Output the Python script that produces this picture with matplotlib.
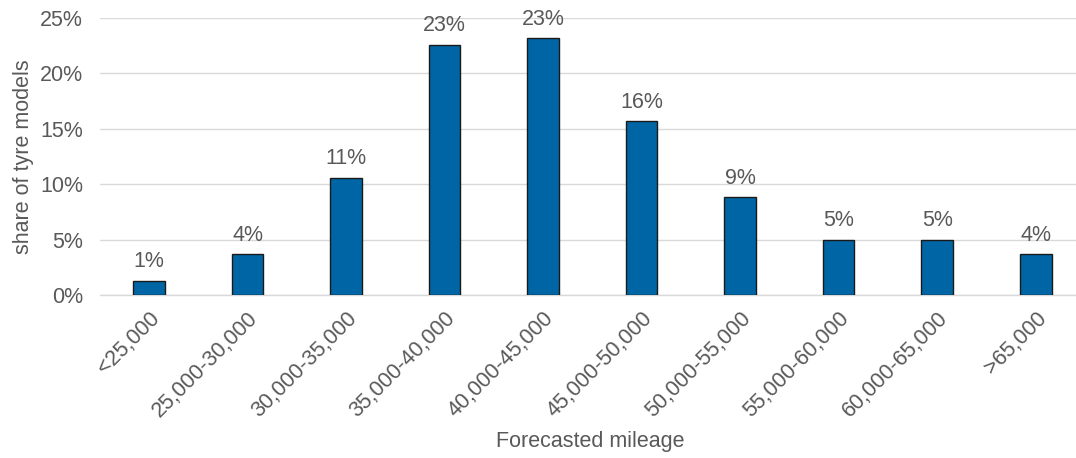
import matplotlib
matplotlib.use("Agg")
import matplotlib.pyplot as plt
from matplotlib.ticker import PercentFormatter

categories = ["<25,000", "25,000-30,000", "30,000-35,000", "35,000-40,000",
              "40,000-45,000", "45,000-50,000", "50,000-55,000", "55,000-60,000",
              "60,000-65,000", ">65,000"]
shares = [0.013, 0.037, 0.106, 0.226, 0.232, 0.157, 0.088, 0.050, 0.050, 0.037]
y_ticks = [0.0, 0.05, 0.10, 0.15, 0.20, 0.25]

plt.rcParams["font.family"] = ["Liberation Sans", "DejaVu Sans"]
text_color = "#595959"
fs = 15.5

fig = plt.figure(figsize=(10.76, 4.58), dpi=100)
W, H = 1076, 458
left_px, right_px = 99.75, 1085.0
bottom_px, top_px = 295.0, 18.0
ax = fig.add_axes([left_px / W, 1 - bottom_px / H,
                   (right_px - left_px) / W, (bottom_px - top_px) / H])

x = range(len(categories))
bars = ax.bar(x, shares, width=0.32, color="#0065A4", edgecolor="#1a1a1a",
              linewidth=1.0, zorder=3)

for xi, v in zip(x, shares):
    ax.annotate(f"{v:.0%}", (xi, v), xytext=(0, 6), textcoords="offset points",
                ha="center", va="bottom", fontsize=fs, color=text_color)

ax.set_xlim(-0.5, len(categories) - 0.5)
ax.set_ylim(0, 0.25)
ax.set_yticks(y_ticks)
ax.yaxis.set_major_formatter(PercentFormatter(1.0, decimals=0))
ax.set_xticks(list(x))
ax.set_xticklabels(categories, rotation=45, ha="right", va="top",
                   rotation_mode="anchor")

ax.grid(axis="y", color="#d9d9d9", linewidth=1.0, zorder=0)
for s in ["top", "right", "left"]:
    ax.spines[s].set_visible(False)
ax.spines["bottom"].set_color("#d9d9d9")
ax.spines["bottom"].set_linewidth(1.0)
ax.spines["bottom"].set_zorder(1)

ax.tick_params(axis="both", length=0, labelsize=fs, colors=text_color)
ax.tick_params(axis="y", pad=12)
ax.tick_params(axis="x", pad=9)

ax.set_ylabel("share of tyre models", fontsize=fs, color=text_color, labelpad=4)
fig.text(590 / W, 1 - 441 / H, "Forecasted mileage", ha="center", va="center",
         fontsize=fs, color=text_color)

fig.savefig("out.png", dpi=100)
